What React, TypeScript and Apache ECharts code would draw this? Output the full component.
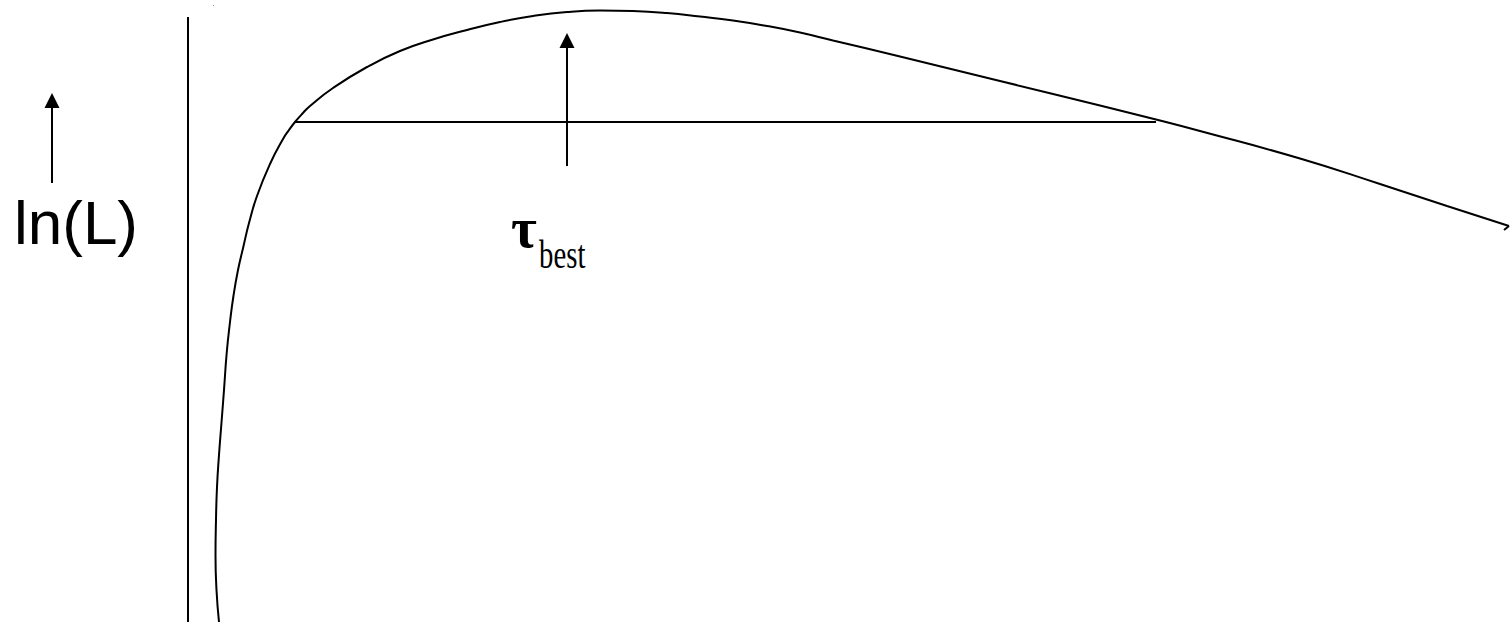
import React, { useEffect, useRef } from "react";
import * as echarts from "echarts";

// Log-likelihood curve ln(L) as a function of tau (arbitrary units)
const curveTau = [
  0.32, 0.295, 0.285, 0.29, 0.30, 0.32, 0.347, 0.37, 0.397, 0.43, 0.463, 0.51, 0.563, 0.62,
  0.70, 0.83, 0.96, 1.02, 1.08, 1.15, 1.23, 1.46, 1.80, 2.13, 2.46, 2.80, 3.13, 3.46,
  3.80, 4.13, 4.46, 4.80, 5.13, 5.46, 5.80, 6.13, 6.46, 6.80, 7.13, 8.13, 9.13, 9.69,
  10.13, 11.13, 11.93, 12.60, 13.22,
];
const curveLnL = [
  -6.22, -5.90, -5.55, -5.20, -4.87, -4.55, -4.20, -3.90, -3.53, -3.22, -2.97, -2.70, -2.47, -2.23,
  -1.96, -1.64, -1.39, -1.30, -1.22, -1.14, -1.06, -0.88, -0.67, -0.51, -0.395, -0.30, -0.22, -0.16,
  -0.12, -0.105, -0.11, -0.13, -0.165, -0.205, -0.26, -0.325, -0.405, -0.485, -0.565, -0.81, -1.055, -1.195,
  -1.31, -1.585, -1.84, -2.06, -2.26,
];
// short hook at the end of the curve
const tailTau = [13.22, 13.17];
const tailLnL = [-2.26, -2.30];

// level line across the curve
const levelLnL = -1.22;
const levelTau = [1.08, 9.69];

// arrow pointing at the maximum
const bestTau = 3.8;
const bestArrowLnL = [-1.66, -0.405];

// arrow beside the ln(L) label
const labelArrowTau = -1.35;
const labelArrowLnL = [-1.83, -1.005];

// vertical reference axis
const axisTau = 0.01;
const axisLnL = [-0.17, -6.22];

const toPairs = (xs: number[], ys: number[]) => xs.map((x, i) => [x, ys[i]]);

export default function App() {
  const ref = useRef<HTMLDivElement>(null);

  useEffect(() => {
    if (!ref.current) return;
    const chart = echarts.init(ref.current, undefined, { renderer: "svg" });
    const black = "#000";
    const arrowLine = (x: number, y0: number, y1: number) => ({
      silent: true,
      symbol: ["none", "triangle"],
      symbolSize: [15, 15],
      label: { show: false },
      lineStyle: { color: black, width: 2, type: "solid" },
      data: [[{ coord: [x, y0] }, { coord: [x, y1] }]],
    });
    chart.setOption({
      animation: false,
      backgroundColor: "#fff",
      grid: { left: 0, right: 0, top: 0, bottom: 0 },
      xAxis: { type: "value", min: -1.87, max: 13.25, show: false },
      yAxis: { type: "value", min: -6.22, max: 0, show: false },
      series: [
        {
          type: "line",
          data: toPairs(curveTau, curveLnL),
          smooth: 0.5,
          showSymbol: false,
          lineStyle: { color: black, width: 2 },
        },
        {
          type: "line",
          data: toPairs(tailTau, tailLnL),
          showSymbol: false,
          lineStyle: { color: black, width: 2 },
        },
        {
          type: "line",
          data: toPairs(levelTau, [levelLnL, levelLnL]),
          showSymbol: false,
          lineStyle: { color: black, width: 2 },
        },
        {
          type: "line",
          data: toPairs([axisTau, axisTau], axisLnL),
          showSymbol: false,
          lineStyle: { color: black, width: 2 },
        },
        {
          type: "line",
          data: [],
          markLine: arrowLine(bestTau, bestArrowLnL[0], bestArrowLnL[1]),
        },
        {
          type: "line",
          data: [],
          markLine: arrowLine(labelArrowTau, labelArrowLnL[0], labelArrowLnL[1]),
        },
      ],
      graphic: [
        {
          type: "text",
          x: 76,
          y: 222,
          style: {
            text: "ln(L)",
            fill: black,
            font: '62px "Liberation Sans", Arial, sans-serif',
            align: "center",
            verticalAlign: "middle",
          },
        },
        {
          type: "text",
          x: 511,
          y: 256,
          style: {
            text: "τ",
            fill: black,
            font: 'bold 56px "Liberation Serif", "Times New Roman", serif',
            align: "left",
            verticalAlign: "bottom",
          },
        },
        {
          type: "text",
          x: 539,
          y: 275,
          scaleX: 0.72,
          style: {
            text: "best",
            fill: black,
            font: '40px "Liberation Serif", "Times New Roman", serif',
            align: "left",
            verticalAlign: "bottom",
          },
        },
        {
          type: "rect",
          shape: { x: 213, y: 5, width: 1, height: 1 },
          style: { fill: "#999" },
        },
      ],
    });
    return () => chart.dispose();
  }, []);

  return (
    <div
      ref={ref}
      style={{ position: "fixed", left: 0, top: 0, width: 1512, height: 622, background: "#fff" }}
    />
  );
}
